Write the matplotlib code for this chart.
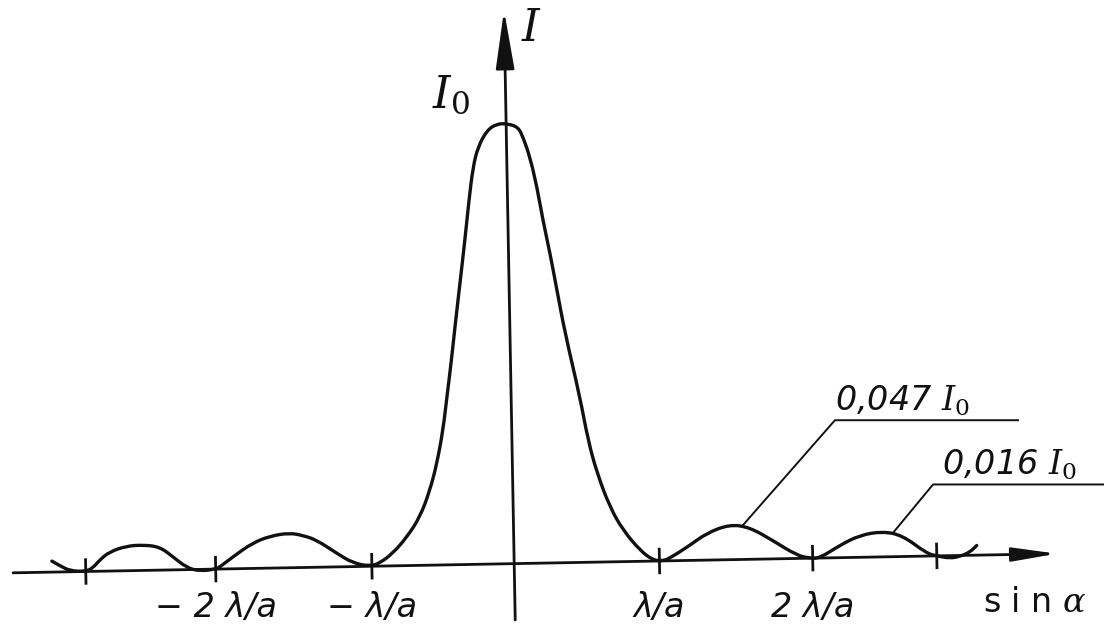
import numpy as np
import matplotlib
matplotlib.use("Agg")
import matplotlib.pyplot as plt
from matplotlib.path import Path
from matplotlib.patches import PathPatch
from matplotlib.transforms import Affine2D

plt.rcParams['mathtext.fontset'] = 'dejavuserif'

# intensity curve: x in units of lambda/a, y in units of I0
sin_a = np.array([
    -3.151, -3.096, -3.027, -2.92,
    -2.870, -2.822, -2.753, -2.637, -2.527, -2.411, -2.322, -2.226, -2.137, -2.03,
    -2.00, -1.911, -1.774, -1.65, -1.521, -1.43, -1.336, -1.199, -1.089, -0.973,
    -0.904, -0.814, -0.716, -0.624, -0.553, -0.501, -0.456, -0.425, -0.392, -0.361,
    -0.321, -0.282, -0.249, -0.217, -0.181, -0.117, -0.048, 0.021, 0.096, 0.129,
    0.174, 0.218, 0.255, 0.299, 0.342, 0.392, 0.486, 0.536, 0.594, 0.678,
    0.764, 0.878, 0.966, 1.034,
    1.082, 1.219, 1.336, 1.493, 1.630, 1.788, 1.952, 2.04,
    2.11, 2.247, 2.384, 2.541, 2.678, 2.842, 2.91, 3.0, 3.07, 3.137, 3.185,
])
intensity = np.array([
    0.025, 0.014, 0.002, 0.0,
    0.008, 0.026, 0.044, 0.056, 0.058, 0.053, 0.030, 0.004, -0.004, 0.0,
    0.005, 0.027, 0.058, 0.073, 0.079, 0.073, 0.062, 0.031, 0.008, 0.0,
    0.007, 0.029, 0.065, 0.110, 0.170, 0.232, 0.306, 0.381, 0.458, 0.540,
    0.640, 0.737, 0.828, 0.903, 0.948, 0.986, 1.0, 1.0, 0.992, 0.969,
    0.923, 0.855, 0.779, 0.704, 0.620, 0.522, 0.376, 0.278, 0.202, 0.124,
    0.072, 0.025, 0.002, 0.0,
    0.006, 0.034, 0.061, 0.080, 0.073, 0.042, 0.007, 0.0,
    0.0, 0.028, 0.050, 0.058, 0.048, 0.006, 0.0, -0.006, -0.002, 0.007, 0.022,
])

# minima marks on the axis and their labels
ticks_x = [-2.92, -2.03, -0.96, 1.01, 2.06, 2.91]
tick_labels = ['', '− 2 λ/a', '− λ/a', 'λ/a', '2 λ/a', '']

# secondary maxima annotations
notes = [r'0,047 $I_0$', r'0,016 $I_0$']
note_at = [1.58, 2.61]

fig = plt.figure(figsize=(11.04, 6.31), dpi=100)
ax = fig.add_axes([0, 0, 1, 1])
ax.set_xlim(-3.507, 4.055)
ax.set_ylim(-0.153, 1.281)
ax.axis('off')

ink = '#111111'

# the sketch is drawn slightly rotated (about 1 degree, counter-clockwise)
ox, oy = ax.transData.transform((0, 0))
rot = ax.transData + Affine2D().rotate_deg_around(ox, oy, 1.05)

# axes with arrows
ax.annotate('', xy=(3.733, 0), xytext=(-3.418, 0), xycoords=rot,
            arrowprops=dict(arrowstyle='-|>,head_length=0.9,head_width=0.14',
                            mutation_scale=30, lw=2.0, color=ink,
                            shrinkA=0, shrinkB=0))
ax.annotate('', xy=(0.015, 1.258), xytext=(0.015, -0.128), xycoords=rot,
            arrowprops=dict(arrowstyle='-|>,head_length=1.2,head_width=0.19',
                            mutation_scale=30, lw=2.0, color=ink,
                            shrinkA=0, shrinkB=0))

ax.vlines(ticks_x, -0.03, 0.03, color=ink, lw=2.0, transform=rot)
for x, lab in zip(ticks_x, tick_labels):
    ax.text(x, -0.099, lab, ha='center', va='center', fontsize=24,
            style='italic', color=ink)

# smooth pen line through the read points (quadratic bezier via midpoints)
pts = np.column_stack([sin_a, intensity])
verts = [pts[0]]
codes = [Path.MOVETO]
for i in range(1, len(pts) - 1):
    verts += [pts[i], (pts[i] + pts[i + 1]) / 2]
    codes += [Path.CURVE3, Path.CURVE3]
verts.append(pts[-1])
codes.append(Path.LINETO)
ax.add_patch(PathPatch(Path(verts, codes), fill=False, edgecolor=ink, lw=2.4,
                       joinstyle='round', capstyle='round', transform=rot))

# leader lines to the side maxima (horizontal on the page)
elbows = [(2.212, 0.326), (2.884, 0.180)]
ends = [3.466, 4.055]
for xa, (ex, ey), xe, txt in zip(note_at, elbows, ends, notes):
    ya = np.interp(xa, sin_a, intensity)
    sx, sy = ax.transData.inverted().transform(rot.transform((xa, ya)))
    ax.plot([sx, ex, xe], [sy, ey, ey], color=ink, lw=1.4)
    ax.text(ex + (0.0 if xe < 4 else 0.06), ey + 0.022, txt, ha='left',
            va='baseline', fontsize=24, style='italic', color=ink)

ax.text(0.06, 1.217, r'$I$', ha='left', va='center', fontsize=32, color=ink)
ax.text(-0.548, 1.035, r'$I_0$', ha='left', va='baseline', fontsize=32, color=ink)
ax.text(3.226, -0.11, r's i n $\alpha$', ha='left', va='baseline', fontsize=24,
        color=ink)

fig.savefig('out.png', dpi=100, facecolor='white')
